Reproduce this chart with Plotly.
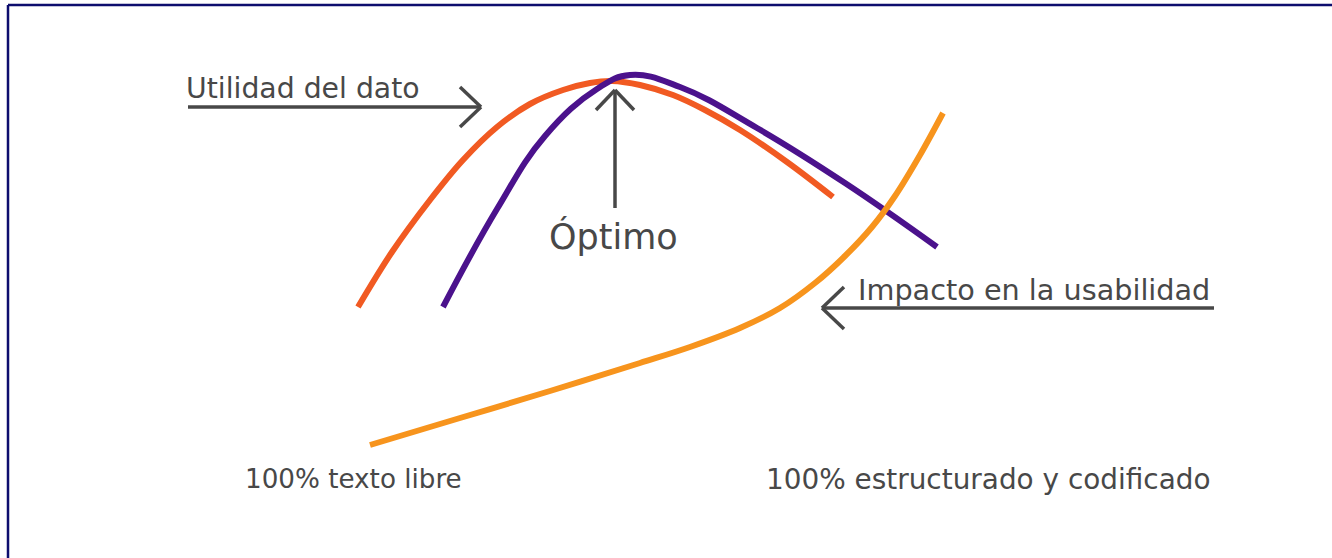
import plotly.graph_objects as go

W, H = 1332, 558

# Curves (x, y in picture units: x to the right, y downward)
utilidad_x = [358, 392, 430, 463, 497, 530, 563, 590, 612, 640, 673, 705, 740, 787, 833]
utilidad_y = [307, 252, 200, 160, 127, 104, 90, 83, 81, 85, 95, 110, 130, 162, 197]

optimo_x = [443, 497, 545, 597, 630, 680, 757, 845, 937]
optimo_y = [307, 209, 136, 89, 75, 87, 128, 183, 247]

impacto_x = [370, 460, 550, 640, 690, 740, 780, 815, 845, 872, 895, 920, 943]
impacto_y = [445, 418, 391, 363, 347, 328, 308, 283, 256, 227, 196, 155, 113]

labels = ["Utilidad del dato", "Óptimo", "Impacto en la usabilidad",
          "100% texto libre", "100% estructurado y codificado"]

FONT = "DejaVu Sans"
GRAY = "#484848"

fig = go.Figure()
fig.add_trace(go.Scatter(x=utilidad_x, y=utilidad_y, mode="lines",
                         line=dict(color="#f15a22", width=6, shape="spline", smoothing=1.0),
                         hoverinfo="skip"))
fig.add_trace(go.Scatter(x=optimo_x, y=optimo_y, mode="lines",
                         line=dict(color="#4b128c", width=6, shape="spline", smoothing=1.2),
                         hoverinfo="skip"))
fig.add_trace(go.Scatter(x=impacto_x, y=impacto_y, mode="lines",
                         line=dict(color="#f7941d", width=6, shape="spline", smoothing=1.0),
                         hoverinfo="skip"))

shapes = []
def seg(x0, y0, x1, y1, w=3.5, c=GRAY):
    shapes.append(dict(type="line", xref="x", yref="y", x0=x0, y0=y0, x1=x1, y1=y1,
                       line=dict(color=c, width=w)))

# Utilidad arrow
seg(188, 107, 480, 107)
seg(460, 87, 481, 107)
seg(460, 127, 481, 107)
# Óptimo arrow
seg(615, 90, 615, 208)
seg(596, 110, 615, 90)
seg(634, 110, 615, 90)
# Impacto arrow
seg(822, 308, 1214, 308)
seg(844, 287, 822, 308)
seg(844, 329, 822, 308)

# Border
shapes.append(dict(type="line", xref="paper", yref="paper", x0=8/W, x1=1, y0=1-5/H, y1=1-5/H,
                   line=dict(color="#0d0d6e", width=2.5)))
shapes.append(dict(type="line", xref="paper", yref="paper", x0=8/W, x1=8/W, y0=0, y1=1-5/H,
                   line=dict(color="#0d0d6e", width=2.5)))

ann = []
def txt(x, y, s, size, anchor="left"):
    ann.append(dict(x=x, y=y, xref="x", yref="y", text=s, showarrow=False, xanchor=anchor,
                    yanchor="middle", font=dict(family=FONT, size=size, color=GRAY)))

txt(184, 88, labels[0], 28.3)
txt(613, 236, labels[1], 35, "center")
txt(856, 290, labels[2], 28.7)
txt(243, 479, labels[3], 26.2)
txt(764, 479, labels[4], 27.9)

fig.update_layout(
    width=W, height=H, margin=dict(l=0, r=0, t=0, b=0),
    paper_bgcolor="white", plot_bgcolor="white", showlegend=False,
    xaxis=dict(range=[0, W], visible=False, fixedrange=True),
    yaxis=dict(range=[H, 0], visible=False, fixedrange=True),
    shapes=shapes, annotations=ann,
)
fig.write_html("out.html", config={"displayModeBar": False},
               post_script="document.body.style.margin='0';document.body.style.overflow='hidden';")
